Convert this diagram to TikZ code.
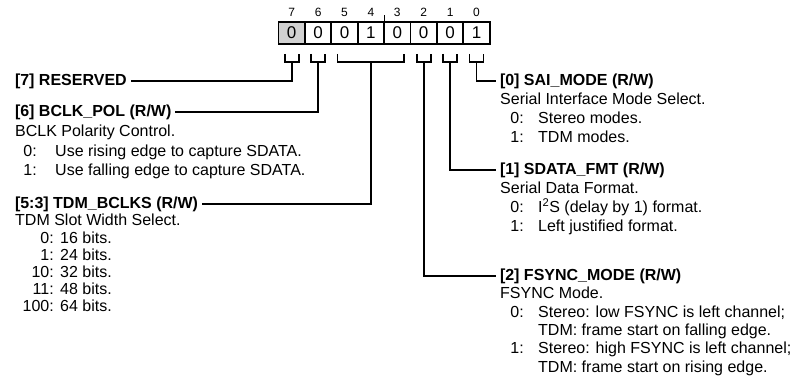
\documentclass[tikz,border=0pt]{standalone}
\usepackage{fontspec}
\setmainfont{Liberation Sans}
\tikzset{
	heading/.style={anchor=base west, inner sep=0pt, outer sep=4pt, font=\fontsize{16}{19}\selectfont\bfseries},
	descr/.style={anchor=base west, inner sep=0pt, font=\fontsize{16}{19}\selectfont},
	itemnum/.style={anchor=base east, inner sep=0pt, font=\fontsize{16}{19}\selectfont},
	regbit/.style={draw, line width=1.8pt, minimum width=26.4pt, minimum height=22pt, inner sep=0pt, outer sep=0pt, font=\fontsize{17}{20}\selectfont},
	bitno/.style={inner sep=0pt, font=\fontsize{12}{14}\selectfont},
	wire/.style={line width=1.8pt},
}
\begin{document}
\begin{tikzpicture}[x=1pt, y=-1pt]
	\useasboundingbox (0, 0) rectangle (798, 377) ;
	% bit numbers
	\node (n7)[bitno] at (291.7, 12) {7} ;
	\node (n6)[bitno] at (318.1, 12) {6} ;
	\node (n5)[bitno] at (344.5, 12) {5} ;
	\node (n4)[bitno] at (370.9, 12) {4} ;
	\node (n3)[bitno] at (397.3, 12) {3} ;
	\node (n2)[bitno] at (423.7, 12) {2} ;
	\node (n1)[bitno] at (450.1, 12) {1} ;
	\node (n0)[bitno] at (476.5, 12) {0} ;
	% register value
	\node (b7)[regbit, fill=black!18] at (291.7, 33) {0} ;
	\node (b6)[regbit] at (318.1, 33) {0} ;
	\node (b5)[regbit] at (344.5, 33) {0} ;
	\node (b4)[regbit] at (370.9, 33) {1} ;
	\node (b3)[regbit] at (397.3, 33) {0} ;
	\node (b2)[regbit] at (423.7, 33) {0} ;
	\node (b1)[regbit] at (450.1, 33) {0} ;
	\node (b0)[regbit] at (476.5, 33) {1} ;
	\draw[line width=1pt] (b4.north east) -- ++(0, -7) ;
	% left fields
	\node (h7)[heading] at (11, 85.5) {[7] RESERVED} ;
	\node (h6)[heading] at (11, 116.5) {[6] BCLK\_POL (R/W)} ;
	\node (d6)[descr] at (15, 136.5) {BCLK Polarity Control.} ;
	\node (i60)[itemnum] at (37, 156.5) {0:} ;
	\node (t60)[descr] at (55, 156.5) {Use rising edge to capture SDATA.} ;
	\node (i61)[itemnum] at (37, 175.5) {1:} ;
	\node (t61)[descr] at (55, 175.5) {Use falling edge to capture SDATA.} ;
	\node (h53)[heading] at (11, 208.5) {[5:3] TDM\_BCLKS (R/W)} ;
	\node (d53)[descr] at (15, 225.5) {TDM Slot Width Select.} ;
	\node (i530)[itemnum] at (54, 243) {0:} ;
	\node (t530)[descr] at (60, 243) {16 bits.} ;
	\node (i531)[itemnum] at (54, 260.5) {1:} ;
	\node (t531)[descr] at (60, 260.5) {24 bits.} ;
	\node (i532)[itemnum] at (54, 277.5) {10:} ;
	\node (t532)[descr] at (60, 277.5) {32 bits.} ;
	\node (i533)[itemnum] at (54, 294.5) {11:} ;
	\node (t533)[descr] at (60, 294.5) {48 bits.} ;
	\node (i534)[itemnum] at (54, 311.5) {100:} ;
	\node (t534)[descr] at (60, 311.5) {64 bits.} ;
	% right fields
	\node (h0)[heading] at (496, 85.5) {[0] SAI\_MODE (R/W)} ;
	\node (d0)[descr] at (500, 104.5) {Serial Interface Mode Select.} ;
	\node (i00)[itemnum] at (524, 123.5) {0:} ;
	\node (t00)[descr] at (538, 123.5) {Stereo modes.} ;
	\node (i01)[itemnum] at (524, 142.5) {1:} ;
	\node (t01)[descr] at (538, 142.5) {TDM modes.} ;
	\node (h1)[heading] at (496, 174.5) {[1] SDATA\_FMT (R/W)} ;
	\node (d1)[descr] at (500, 193.5) {Serial Data Format.} ;
	\node (i10)[itemnum] at (524, 212.5) {0:} ;
	\node (t10)[descr] at (538, 212.5) {I\textsuperscript{2}S (delay by 1) format.} ;
	\node (i11)[itemnum] at (524, 231.5) {1:} ;
	\node (t11)[descr] at (538, 231.5) {Left justified format.} ;
	\node (h2)[heading] at (496, 280.5) {[2] FSYNC\_MODE (R/W)} ;
	\node (d2)[descr] at (500, 298.8) {FSYNC Mode.} ;
	\node (i20)[itemnum] at (524, 317.1) {0:} ;
	\node (t20)[descr] at (538, 317.1) {Stereo: low FSYNC is left channel;} ;
	\node (t20b)[descr] at (538, 335.4) {TDM: frame start on falling edge.} ;
	\node (i21)[itemnum] at (524, 353.7) {1:} ;
	\node (t21)[descr] at (538, 353.7) {Stereo: high FSYNC is left channel;} ;
	\node (t21b)[descr] at (538, 372) {TDM: frame start on rising edge.} ;
	% brackets
	\draw[wire] (b7.south) ++(-7, 10) -- ++(0, 8) -- ++(14, 0) -- ++(0, -8) ;
	\draw[wire] (b6.south) ++(-7, 10) -- ++(0, 8) -- ++(14, 0) -- ++(0, -8) ;
	\draw[wire] (b5.south) ++(-7, 10) -- ++(0, 8) -- ++(66.8, 0) -- ++(0, -8) ;
	\draw[wire] (b2.south) ++(-7, 10) -- ++(0, 8) -- ++(14, 0) -- ++(0, -8) ;
	\draw[wire] (b1.south) ++(-7, 10) -- ++(0, 8) -- ++(14, 0) -- ++(0, -8) ;
	\draw[wire] (b0.south) ++(-7, 10) -- ++(0, 8) -- ++(14, 0) -- ++(0, -8) ;
	% connectors
	\draw[wire] (b7.south) ++(0, 18) |- (h7.east) ;
	\draw[wire] (b6.south) ++(0, 18) |- (h6.east) ;
	\draw[wire] (b4.south) ++(0, 18) |- (h53.east) ;
	\draw[wire] (b2.south) ++(0, 18) |- (h2.west) ;
	\draw[wire] (b1.south) ++(0, 18) |- (h1.west) ;
	\draw[wire] (b0.south) ++(0, 18) |- (h0.west) ;
\end{tikzpicture}
\end{document}
